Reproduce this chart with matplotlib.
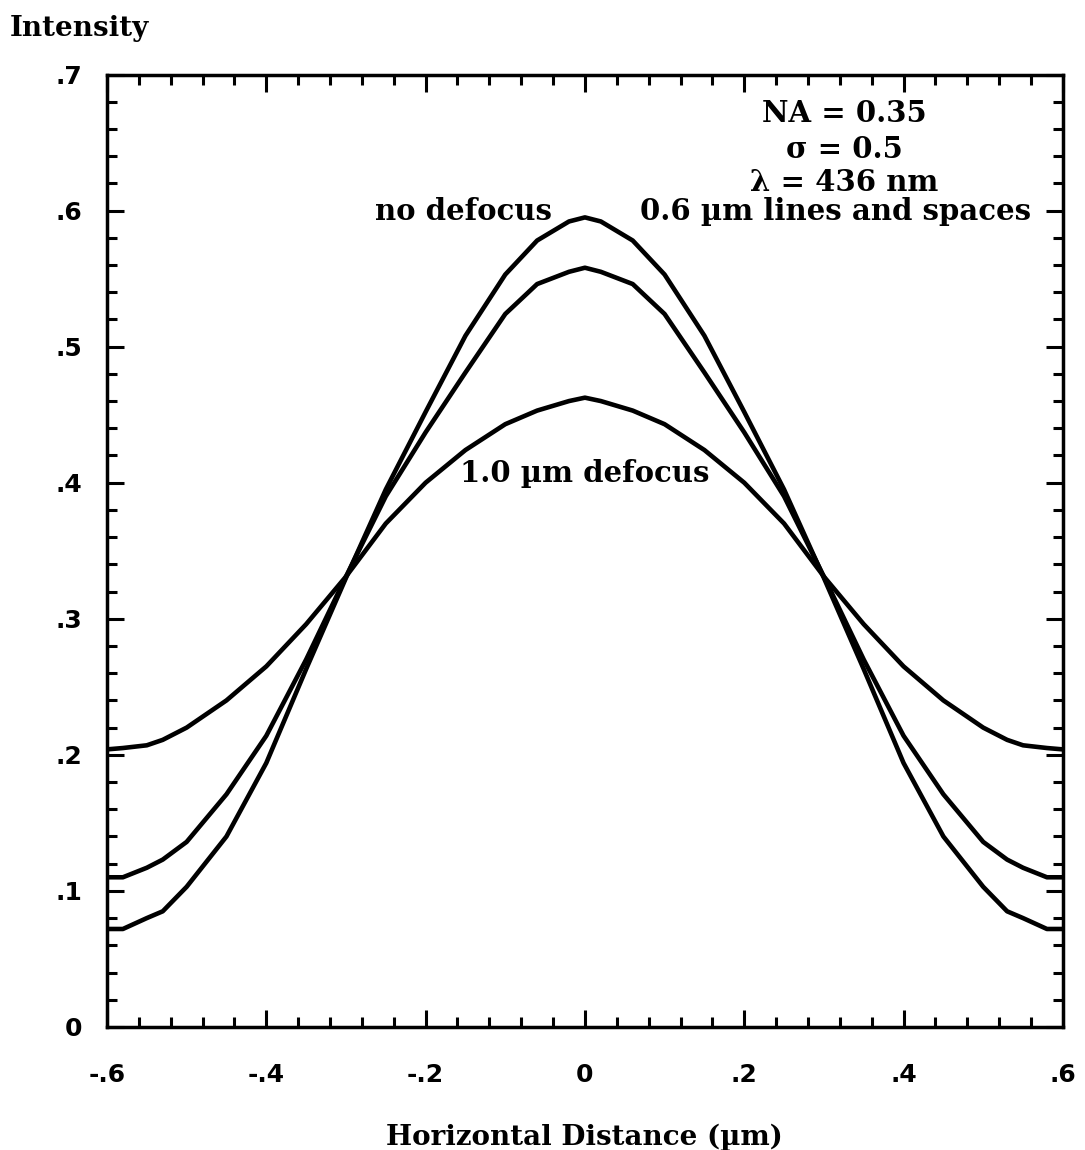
import numpy as np
import matplotlib.pyplot as plt
from matplotlib.ticker import MultipleLocator, FuncFormatter

# left half of each profile (x <= 0), mirrored for the right half
x_half = [-0.6, -0.58, -0.55, -0.53, -0.5, -0.45, -0.4, -0.35, -0.3,
          -0.25, -0.2, -0.15, -0.1, -0.06, -0.02, 0.0]
no_defocus = [0.072, 0.072, 0.080, 0.085, 0.103, 0.140, 0.194, 0.263, 0.330,
              0.395, 0.452, 0.508, 0.553, 0.578, 0.592, 0.595]
mid_defocus = [0.110, 0.110, 0.117, 0.123, 0.136, 0.171, 0.214, 0.270, 0.331,
               0.390, 0.437, 0.481, 0.524, 0.546, 0.555, 0.558]
defocus_1um = [0.204, 0.205, 0.207, 0.211, 0.220, 0.240, 0.265, 0.296, 0.331,
               0.370, 0.400, 0.424, 0.443, 0.453, 0.460, 0.4625]


def mirror(xs, ys):
    xs = np.array(xs)
    ys = np.array(ys)
    return np.concatenate([xs, -xs[-2::-1]]), np.concatenate([ys, ys[-2::-1]])


serif = 'DejaVu Serif'
sans = 'DejaVu Sans'

fig = plt.figure(figsize=(10.85, 11.5), dpi=100)
ax = fig.add_axes([0.0986, 0.107, 0.881, 0.8282])

for ys in (no_defocus, mid_defocus, defocus_1um):
    xx, yy = mirror(x_half, ys)
    ax.plot(xx, yy, color='black', lw=3.3, solid_joinstyle='round')

ax.set_xlim(-0.6, 0.6)
ax.set_ylim(0, 0.7)
ax.xaxis.set_major_locator(MultipleLocator(0.2))
ax.xaxis.set_minor_locator(MultipleLocator(0.04))
ax.yaxis.set_major_locator(MultipleLocator(0.1))
ax.yaxis.set_minor_locator(MultipleLocator(0.02))


def fmt(v, pos):
    v = round(v, 2)
    if abs(v) < 1e-9:
        return '0'
    s = '%.1f' % v
    return s.replace('0.', '.')


ax.xaxis.set_major_formatter(FuncFormatter(fmt))
ax.yaxis.set_major_formatter(FuncFormatter(fmt))
ax.tick_params(which='both', direction='in', top=True, right=True, width=2.2)
ax.tick_params(which='major', length=12)
ax.tick_params(which='minor', length=7)
ax.tick_params(axis='x', which='major', pad=26)
ax.tick_params(axis='y', which='major', pad=18)
for lab in ax.get_xticklabels() + ax.get_yticklabels():
    lab.set_fontfamily(sans)
    lab.set_fontweight('bold')
    lab.set_fontsize(18)
for sp in ax.spines.values():
    sp.set_linewidth(2.5)

fig.text(0.009, 0.975, 'Intensity', family=serif, weight='bold', fontsize=20,
         ha='left', va='center')
fig.text(0.539, 0.011, 'Horizontal Distance (µm)', family=serif, weight='bold',
         fontsize=20, ha='center', va='center')

tkw = dict(family=serif, weight='bold', fontsize=21, ha='center', va='center')
ax.text(0.326, 0.671, 'NA = 0.35', **tkw)
ax.text(0.326, 0.645, 'σ = 0.5', **tkw)
ax.text(0.326, 0.621, 'λ = 436 nm', **tkw)
ax.text(0.315, 0.599, '0.6 µm lines and spaces', **tkw)
ax.text(-0.152, 0.599, 'no defocus', **tkw)
ax.text(0.0, 0.407, '1.0 µm defocus', **tkw)

plt.savefig('out.png', dpi=100)
